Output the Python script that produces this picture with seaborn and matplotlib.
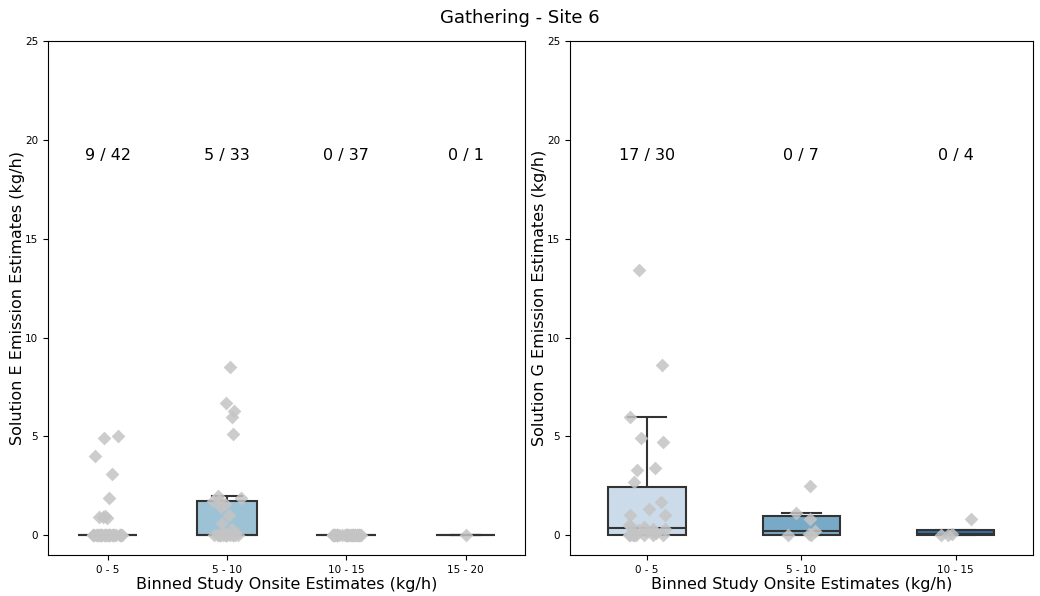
import numpy as np
import pandas as pd
import matplotlib
matplotlib.use("Agg")
import matplotlib.pyplot as plt
import seaborn as sns

np.random.seed(3)

title = "Gathering - Site 6"
xlabel = "Binned Study Onsite Estimates (kg/h)"

# Left panel: Solution E
left_bins = ["0 - 5", "5 - 10", "10 - 15", "15 - 20"]
left_0_5 = [0.0] * 33 + [5.0, 4.9, 4.0, 3.1, 1.9, 0.9, 0.9, 0.95, 0.85]
left_5_10 = [0.0] * 17 + [0.05, 0.1, 0.3, 0.6, 1.0, 1.4, 1.6, 1.75, 1.8, 1.9, 2.0,
                          5.1, 6.0, 6.3, 6.7, 8.5]
left_10_15 = [0.0] * 37
left_15_20 = [0.0]
left_labels = ["9 / 42", "5 / 33", "0 / 37", "0 / 1"]

# Right panel: Solution G
right_bins = ["0 - 5", "5 - 10", "10 - 15"]
right_0_5 = [0.0] * 8 + [0.05, 0.1, 0.15, 0.2, 0.25, 0.3, 0.3, 0.4, 0.45, 0.5,
                         1.0, 1.0, 1.3, 1.7, 2.7, 3.3, 3.4, 4.7, 4.9, 6.0, 8.6, 13.4]
right_5_10 = [0.0, 0.0, 0.05, 0.2, 0.8, 1.1, 2.5]
right_10_15 = [0.0, 0.02, 0.05, 0.8]
right_labels = ["17 / 30", "0 / 7", "0 / 4"]


def make_df(bins, groups):
    rows = []
    for b, vals in zip(bins, groups):
        for v in vals:
            rows.append((b, v))
    return pd.DataFrame(rows, columns=["bin", "value"])


df_left = make_df(left_bins, [left_0_5, left_5_10, left_10_15, left_15_20])
df_right = make_df(right_bins, [right_0_5, right_5_10, right_10_15])

fig = plt.figure(figsize=(10.4, 5.96), dpi=100)
ax1 = fig.add_axes([0.046, 0.069, 0.459, 0.862])
ax2 = fig.add_axes([0.548, 0.069, 0.445, 0.862])

panels = [
    (ax1, df_left, left_bins, left_labels, "Solution E Emission Estimates (kg/h)"),
    (ax2, df_right, right_bins, right_labels, "Solution G Emission Estimates (kg/h)"),
]

for ax, df, bins, labels, ylab in panels:
    sns.boxplot(data=df, x="bin", y="value", hue="bin", order=bins, hue_order=bins,
                palette="Blues", width=0.5, showfliers=False, legend=False,
                linecolor="#333333", linewidth=1.5, ax=ax)
    sns.stripplot(data=df, x="bin", y="value", order=bins, color="#c4c4c4",
                  marker="D", size=7, jitter=0.13, alpha=0.85, ax=ax, zorder=3)
    for i, lab in enumerate(labels):
        ax.text(i, 19.2, lab, ha="center", va="center", fontsize=11.5)
    ax.set_ylim(-1, 25)
    ax.set_yticks([0, 5, 10, 15, 20, 25])
    ax.set_xlabel(xlabel, fontsize=11.5, labelpad=2)
    ax.set_ylabel(ylab, fontsize=11.5, labelpad=0)
    ax.tick_params(labelsize=7.5)

fig.suptitle(title, fontsize=13, y=0.985)
fig.savefig("out.png", dpi=100)
